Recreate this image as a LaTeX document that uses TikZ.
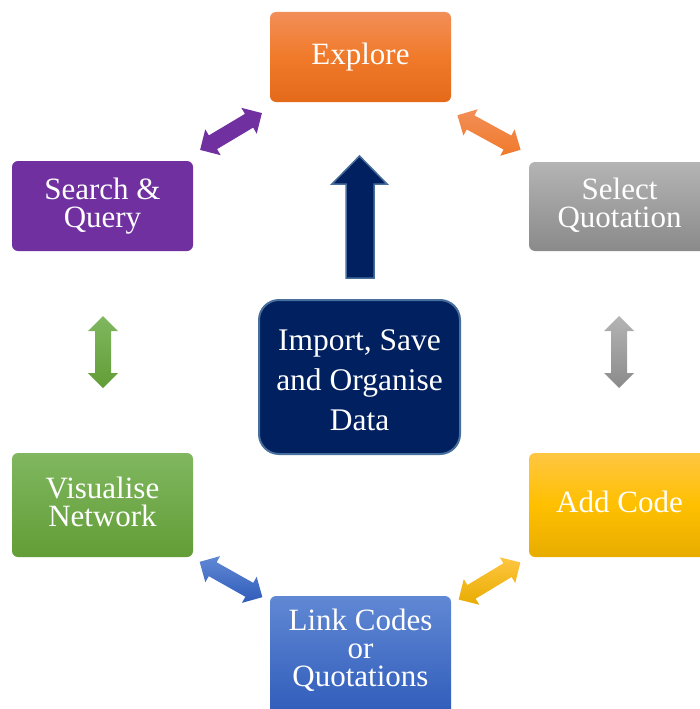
\documentclass[tikz,border=0pt]{standalone}
\usepackage{fontspec}
\setmainfont{Liberation Serif}
\definecolor{orgTop}{RGB}{242,142,88}
\definecolor{orgMid}{RGB}{240,122,42}
\definecolor{orgBot}{RGB}{228,106,26}
\definecolor{gryTop}{RGB}{180,180,180}
\definecolor{gryBot}{RGB}{138,138,138}
\definecolor{ylwTop}{RGB}{255,198,66}
\definecolor{ylwMid}{RGB}{255,192,0}
\definecolor{ylwBot}{RGB}{232,172,0}
\definecolor{bluTop}{RGB}{96,136,212}
\definecolor{bluBot}{RGB}{48,92,186}
\definecolor{grnTop}{RGB}{128,183,96}
\definecolor{grnBot}{RGB}{98,157,54}
\definecolor{prp}{RGB}{112,48,160}
\definecolor{navy}{RGB}{0,32,96}
\definecolor{navyEdge}{RGB}{72,110,156}
% struts giving every text line the same height and depth
\newcommand\boxtopstrut{\rule{0pt}{21pt}}
\newcommand\boxbotstrut{\rule[-7pt]{0pt}{7pt}}
\tikzset{
  stagebox/.style={rounded corners=6pt, minimum width=181pt, text=white,
    font=\fontsize{31}{28}\selectfont, align=center, inner sep=0pt},
  hubbox/.style={rounded corners=20pt, minimum width=201pt, minimum height=154pt,
    fill=navy, draw=navyEdge, line width=2pt, text=white,
    font=\fontsize{31.5}{40}\selectfont, align=center, inner sep=0pt},
  pics/dblarrow/.style={code={
    \path[pic actions] (-36,0) -- (-21,-15) -- (-21,-8) -- (21,-8) -- (21,-15)
      -- (36,0) -- (21,15) -- (21,8) -- (-21,8) -- (-21,15) -- cycle;
  }}
}
\begin{document}
\begin{tikzpicture}[x=1pt,y=-1pt]
\useasboundingbox (0,0) rectangle (699,709);

% the six stages round the cycle
\node[stagebox, minimum height=90pt, top color=orgTop, bottom color=orgBot, middle color=orgMid]
  (explore) at (360.5,57) {\boxtopstrut Explore\boxbotstrut};
\node[stagebox, minimum height=89pt, top color=gryTop, bottom color=gryBot]
  (select) at (619.5,206.5) {\boxtopstrut Select\\Quotation\boxbotstrut};
\node[stagebox, minimum height=104pt, top color=ylwTop, bottom color=ylwBot, middle color=ylwMid]
  (addcode) at (619.5,505) {\boxtopstrut Add Code\boxbotstrut};
\node[stagebox, minimum height=120pt, top color=bluTop, bottom color=bluBot]
  (link) at (360.5,656) {\boxtopstrut Link Codes\\or\\Quotations\rule[-17pt]{0pt}{17pt}};
\node[stagebox, minimum height=104pt, top color=grnTop, bottom color=grnBot]
  (visual) at (102.5,505) {\boxtopstrut Visualise\\Network\boxbotstrut};
\node[stagebox, minimum height=90pt, fill=prp]
  (search) at (102.5,206) {\boxtopstrut Search \&\\Query\boxbotstrut};

% central hub
\node[hubbox] (import) at (359.5,377)
  {\rule{0pt}{33pt}Import, Save\\and Organise\\Data\boxbotstrut};

% block arrow rising from the hub
\draw[fill=navy, draw=navyEdge, line width=1.5pt, line join=miter]
  ([xshift=-13.5pt,yshift=21pt]import.north) -- ++(0,-94) -- ++(-14,0)
  -- (359.5,156) -- (387,184) -- ++(-13,0) -- ([xshift=14.5pt,yshift=21pt]import.north) -- cycle;

% two-way arrows between neighbouring stages
\pic[rotate=30.8, fill=prp] at (231,131.5) {dblarrow};
\pic[rotate=-28.7, top color=orgTop, bottom color=orgMid] at (489,132.5) {dblarrow};
\pic[rotate=90, top color=gryTop, bottom color=gryBot] at (619,352) {dblarrow};
\pic[rotate=31.1, top color=ylwTop, bottom color=ylwBot] at (489.5,581) {dblarrow};
\pic[rotate=-29.4, top color=bluTop, bottom color=bluBot] at (231,579.5) {dblarrow};
\pic[rotate=90, top color=grnTop, bottom color=grnBot] at (103,352) {dblarrow};
\end{tikzpicture}
\end{document}
